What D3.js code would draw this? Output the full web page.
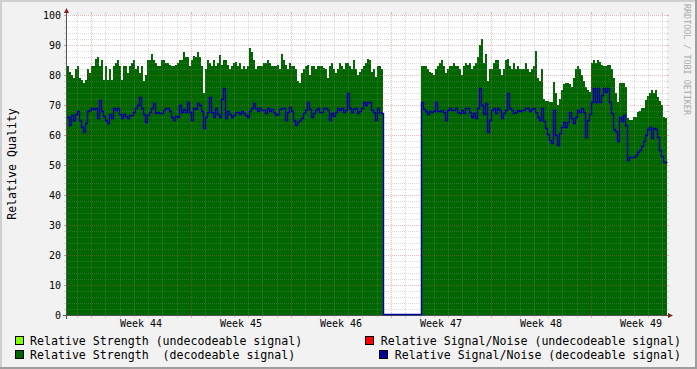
<!DOCTYPE html>
<html><head><meta charset="utf-8">
<script src="https://cdn.jsdelivr.net/npm/d3@7"></script>
<style>html,body{margin:0;padding:0;background:#F2F2F2;}svg{display:block;}text{white-space:pre;}</style>
</head><body>
<svg id="c" width="697" height="369"></svg>
<script>
// ---- data (one sample every 3.36 h; graph spans 6 weeks) ----
const strength = [
83,81,80,79,82,83,79,78.3,77.2,78.3,
82,80.6,83,83,85.5,86,83,85,78.3,83,
78.3,82,78.3,83,84,85,83,78.3,83,83,
80.6,83,84,85,82,83,80.6,83,78,80,
85,85,87,85,84,83,83,85,85,84,
84,83.5,83,83,83.5,84,85,85,87.8,86,
86,83,85,86.5,86,87.8,86,83,74,82,
85,84,83,85,83,84,86.7,83.5,85,85,
83.5,82,83,84,84.5,83,84,82,83,82,
83,88.9,87.8,85,82,83,83,83,84,84,
85,84,83,83,83,83.5,82,87,85,83.5,
82,84,83,83,82,78,77.5,80.8,82,83,
83.5,80,83,83,82,83,83,83,82.5,82,
79,83,84,82,80.8,82,84,83,82,84,
84,83,82,85,82,80,81,82,83,84,
85.5,85,81,82,79.4,83,83,82,
0,0,0,0,0,0,0,0,0,0,0,0,0,0,0,0,0,0,0,
83,83,83,82,81,80.8,80,82,83,84,
85,83,80.5,82,83,83,84,83,83,82,
80,83,84,83.5,84,82,83,84,86,90,
92,84,87,78,82,82,84,85,85,82,
80,82,85,85.5,83,82,84,82,83,82,82,
82,84,82,81,82,83,88,79,78,82,
72,71.5,71.5,71,71,77.8,74,70,72,75,
77,77.5,77.5,77,76,79,82,83,82,80,
78,76,75,74.5,84,85,84,85,84.5,83.5,
83,83,83.5,83.5,82,79,74,71,
77.2,77.2,77.2,76,65.6,65,65,66,66,67.5,
68,69,69,71.7,73,74,75,74,75,72.8,71.5,70,66,65.6
];
const snr = [
66,63.5,66.7,65,67,68,65,62.8,61,64,
68,68.3,69,68.5,69,65.6,71.7,68,66.5,65,
64,67,65.6,68.9,68.3,68.9,67,65.6,67,66.5,
65.6,66.7,66.7,67.8,69,70,72.8,69,67,64.4,
66.7,67.8,69,70.6,67.2,67.8,67.2,67.2,68.3,68.9,
69,68,66,65,66.5,66,70,67.5,68.5,67.5,
71,67.5,65,69,68.5,70.6,70,68,62.2,66,
67.8,72.8,67.5,66,69,67,66,72,75.6,65.6,
68,67,66,66.7,67.8,67.8,67,68,67.2,66.7,
66,68,69,70.6,69,68,69,68.3,68.3,67.2,
69,68,68.5,67.5,66.7,67,68.5,69,68.9,65,
67.8,69.5,68,65,63.3,64.4,65,65.6,67.2,68.3,
71,68.5,66,67.2,68.3,68.9,67.8,67.8,68.9,68.9,
68.3,65,67.2,66.5,67.8,68.9,68.3,68.9,67.8,68.3,
73.9,68.9,67.8,68.5,68.9,67.2,68,69,71,70,
71,71,68.3,67.8,65,68.9,67.8,67.2,
0,0,0,0,0,0,0,0,0,0,0,0,0,0,0,0,0,0,0,
71,68.5,68,67,68,67.5,68,71,68,68,
68.3,67.5,65,68.3,68.9,68.3,68.3,68.9,67.8,67.2,
68.3,67.2,68.9,68.9,67.8,66,67.2,65.6,68.9,75.6,
70,67,70.6,61,65,68.3,68.9,67.2,68.9,68.3,
65.6,67.2,68.3,73.9,68.9,68.3,67.2,67.8,68.3,
68,68.3,68.3,68.9,68.9,68,68.5,68.9,67.5,66,
65,68.9,64.5,62.5,60.5,58.3,57.2,68.3,60,56.7,
60.6,62.8,64.4,62.8,64.4,67.8,65.6,64,66,68.3,
67.8,68.9,67.8,59.4,65,67,71,75.6,71,75.6,
71,73.3,75.6,74.5,75.6,71,67.2,62,61.5,58,
66,64.5,66.7,63.3,51.7,52.8,52.8,52.8,53.3,54.4,
55,56.5,58,60,62,62.8,59,62.5,62,59.4,
55,53,51.1,51.1
];
const weekLabels = ["Week 44","Week 45","Week 46","Week 47","Week 48","Week 49"];
const yTickValues = [0,10,20,30,40,50,60,70,80,90,100];
const legendLeft = ["Relative Strength (undecodeable signal)","Relative Strength  (decodeable signal)"];
const legendRight = ["Relative Signal/Noise (undecodeable signal)","Relative Signal/Noise (decodeable signal)"];
const yTitle = "Relative Quality";
const watermark = "RRDTOOL / TOBI OETIKER";

const sampleHours = 3.36;       // hours per sample
const spanHours = 1008;         // 6 weeks
const week44StartHours = 40.32; // offset of Monday of Week 44 from graph start

// ---- styles ----
const C = {
  back:"#F2F2F2", canvas:"#FFFFFF", shadeA:"#CFCFCF", shadeB:"#9E9E9E",
  grid:"rgba(143,143,143,0.32)", mgrid:"rgba(222,79,79,0.4)",
  axis:"#555", arrow:"#801F1F", font:"#000",
  strengthUndec:"#80FF00", strength:"#006600", snrUndec:"#FF0000", snr:"#00009C"
};
const FONT = "'DejaVu Sans Mono', monospace";

const svg = d3.select("#c");
const W = 697, H = 369;
const X0 = 67, X1 = 667, Y0 = 315, Y1 = 15;

const x = d3.scaleLinear().domain([0, spanHours]).range([X0, X1]);
const y = d3.scaleLinear().domain([0, 100]).range([Y0, Y1]);

// background + frame
svg.append("rect").attr("width",W).attr("height",H).attr("fill",C.back);
svg.append("path").attr("d",`M0,0H${W}V2H2V${H}H0Z`).attr("fill",C.shadeA);
svg.append("path").attr("d",`M${W},${H}H0V${H-2}H${W-2}V0H${W}Z`).attr("fill",C.shadeB);

// canvas
svg.append("rect").attr("x",X0).attr("y",Y1).attr("width",X1-X0).attr("height",Y0-Y1).attr("fill",C.canvas);

// series points
const mk = arr => { const pts = arr.map((v,i)=>({t:i*sampleHours, v})); pts.push({t:spanHours, v:arr[arr.length-1]}); return pts; };
const sPts = mk(strength), nPts = mk(snr);

svg.append("path")
  .attr("d", d3.area().x(d=>Math.round(x(d.t))).y0(y(0)).y1(d=>Math.round(y(d.v))).curve(d3.curveStepAfter)(sPts))
  .attr("fill", C.strength).attr("shape-rendering","crispEdges");

// grid
const g = svg.append("g");
d3.range(2,101,2).forEach(v=>{
  const major = v % 10 === 0;
  const col = major ? C.mgrid : C.grid;
  const yy = Math.round(y(v)) + 0.5;
  g.append("line").attr("x1",X0-1).attr("x2",X1+1).attr("y1",yy).attr("y2",yy)
    .attr("stroke",col).attr("stroke-dasharray","1,1");
  g.append("line").attr("x1",X0-3).attr("x2",X0-1).attr("y1",yy).attr("y2",yy).attr("stroke",col);
  g.append("line").attr("x1",X1).attr("x2",X1+2).attr("y1",yy).attr("y2",yy).attr("stroke",col);
});
const dayTicks = d3.range(week44StartHours - 24, spanHours, 24);
dayTicks.forEach(t=>{
  const major = Math.abs(((t - week44StartHours) % 168)) < 1e-6;
  const col = major ? C.mgrid : C.grid;
  const xx = Math.round(x(t)) + 0.5;
  g.append("line").attr("x1",xx).attr("x2",xx).attr("y1",Y1-1).attr("y2",Y0)
    .attr("stroke",col).attr("stroke-dasharray","1,1");
  g.append("line").attr("x1",xx).attr("x2",xx).attr("y1",Y1-3).attr("y2",Y1-1).attr("stroke",col);
  g.append("line").attr("x1",xx).attr("x2",xx).attr("y1",Y0).attr("y2",Y0+3).attr("stroke",col);
});
yTickValues.forEach(v=>{
  const yy = Math.round(y(v)) + 0.5;
  g.append("line").attr("x1",X0-3).attr("x2",X0).attr("y1",yy).attr("y2",yy).attr("stroke",C.mgrid);
});

// axes
svg.append("line").attr("x1",X0-4).attr("x2",X1+2).attr("y1",Y0+0.5).attr("y2",Y0+0.5).attr("stroke",C.axis);
svg.append("line").attr("x1",X0-0.5).attr("x2",X0-0.5).attr("y1",Y0+4).attr("y2",Y1-2).attr("stroke",C.axis);
svg.append("path").attr("d",`M${X0-0.5},${Y1-7}L${X0-3},${Y1-2}L${X0+2},${Y1-2}Z`).attr("fill",C.arrow);
svg.append("path").attr("d",`M${X1+6},${Y0+0.5}L${X1+1},${Y0-2}L${X1+1},${Y0+3}Z`).attr("fill",C.arrow);

// SNR line (drawn over the axis so the zero run in the gap shows)
svg.append("path")
  .attr("d", d3.line().x(d=>Math.round(x(d.t))+0.5).y(d=>Math.min(Math.round(y(d.v))+0.5, Y0-0.5)).curve(d3.curveStepAfter)(nPts))
  .attr("fill","none").attr("stroke",C.snr).attr("stroke-width",1.4).attr("stroke-linejoin","miter");

// y labels
svg.append("g").selectAll("text").data(yTickValues).join("text")
  .attr("x",61).attr("y",d=>y(d)+3.5).attr("text-anchor","end")
  .attr("font-family",FONT).attr("font-size",10).attr("fill",C.font).text(d=>d);

// x labels
svg.append("g").selectAll("text").data(weekLabels).join("text")
  .attr("x",(d,i)=>x(week44StartHours + 84 + 168*i)).attr("y",327).attr("text-anchor","middle")
  .attr("font-family",FONT).attr("font-size",10).attr("fill",C.font).text(d=>d);

// y title
svg.append("text").attr("transform","translate(16,164) rotate(-90)").attr("text-anchor","middle")
  .attr("font-family",FONT).attr("font-size",11.6).attr("fill",C.font).text(yTitle);

// watermark
svg.append("text").attr("transform","translate(683.5,4) rotate(90)").attr("text-anchor","start")
  .attr("font-family",FONT).attr("font-size",8.4).attr("fill","#AAAAAA").text(watermark);

// legend
const leg = svg.append("g").attr("font-family",FONT).attr("font-size",11.6).attr("fill",C.font);
const legItems = [
  {bx:15.5, by:336.5, tx:30, ty:345, anchor:"start", col:C.strengthUndec, label:legendLeft[0]},
  {bx:15.5, by:350.5, tx:30, ty:359, anchor:"start", col:C.strength, label:legendLeft[1]},
  {bx:365.5, by:336.5, tx:681, ty:345, anchor:"end", col:C.snrUndec, label:legendRight[0]},
  {bx:379.5, by:350.5, tx:681, ty:359, anchor:"end", col:C.snr, label:legendRight[1]}
];
legItems.forEach(it=>{
  leg.append("rect").attr("x",it.bx).attr("y",it.by).attr("width",8).attr("height",8)
    .attr("fill",it.col).attr("stroke","#000").attr("stroke-width",1);
  leg.append("text").attr("x",it.tx).attr("y",it.ty).attr("text-anchor",it.anchor).text(it.label);
});
</script>
</body></html>
